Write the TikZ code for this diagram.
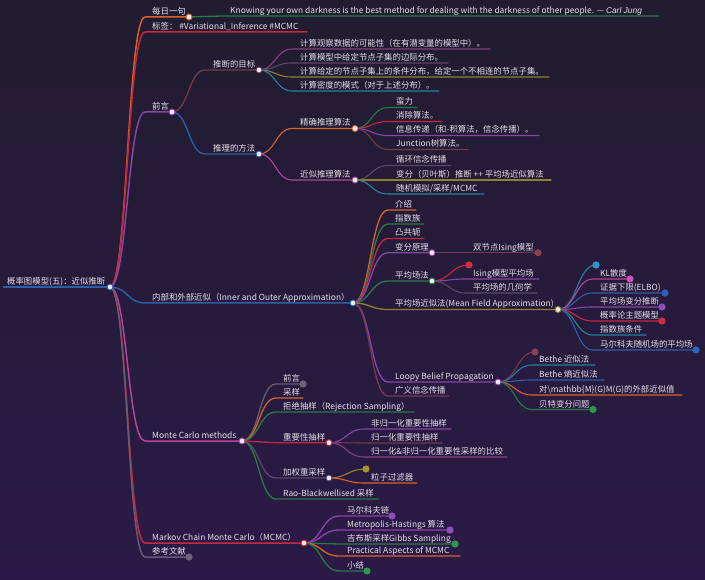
\documentclass[tikz,border=0pt]{standalone}
\usepackage{fontspec}
\setmainfont{Noto Sans CJK SC}
\newfontfamily\latit{Liberation Sans}
\usetikzlibrary{calc}
\definecolor{bgtop}{HTML}{211C30}
\definecolor{bgbot}{HTML}{2B1A47}
\definecolor{txtc}{HTML}{E4DEEA}
\definecolor{dotc}{HTML}{F3ECF6}
\definecolor{cOr}{HTML}{D9622B}
\definecolor{cRed}{HTML}{C8283C}
\definecolor{cPur}{HTML}{8A43A8}
\definecolor{cBlu}{HTML}{2C5FA6}
\definecolor{cGrn}{HTML}{287A46}
\definecolor{cMag}{HTML}{B8429C}
\definecolor{cMar}{HTML}{763A4C}
\definecolor{cOli}{HTML}{8F802C}
\definecolor{cTea}{HTML}{28809A}
\definecolor{cGry}{HTML}{6A5A72}
\definecolor{cGrp}{HTML}{5A4868}
\definecolor{cPlm}{HTML}{8A3F80}
\definecolor{dTea}{HTML}{2A9BC8}
\definecolor{dMag}{HTML}{D24FB6}
\definecolor{dBlu}{HTML}{2B62C2}
\definecolor{dPur}{HTML}{8E4CBD}
\definecolor{dRed}{HTML}{D92A45}
\definecolor{dMar}{HTML}{8A4252}
\definecolor{dGrn}{HTML}{2A9A48}
\definecolor{dOli}{HTML}{A8942E}
\definecolor{dGry}{HTML}{6E6478}
\tikzset{
  txt/.style={anchor=base west, inner sep=0pt, text=txtc, font=\fontsize{8.4}{10}\selectfont},
  lA/.style={line width=1.5pt, line cap=round},
  lB/.style={line width=1.3pt, line cap=round},
  lC/.style={line width=1.1pt, line cap=round},
}
% name, text x, underline start, underline end, y, text
\newcommand\mmnode[6]{\coordinate (#1-s) at (#3,#5); \coordinate (#1-e) at (#4,#5); \node[txt] (#1) at (#2,{#5-2.5}) {#6};}
% parent, child, colour, width
\newcommand\mmlink[4]{\draw[#3,#4] let \p1=(#1-e), \p2=(#2-s) in (\p1) .. controls ({(\x1+\x2)/2},\y1) and ({(\x1+\x2)/2},\y2) .. (\p2) -- (#2-e);}
\newcommand\mmopen[2]{\filldraw[fill=dotc,draw=#2,line width=0.9pt] (#1-e) circle[radius=3pt];}
\newcommand\mmfull[2]{\fill[#2] (#1-e) circle[radius=3.6pt];}
\begin{document}
\begin{tikzpicture}[x=1pt,y=-1pt]
\shade[top color=bgtop, bottom color=bgbot] (0,0) rectangle (705,580);
\useasboundingbox (0,0) rectangle (705,580);
% ---------- nodes ----------
\mmnode{R}{7}{3}{110}{287}{概率图模型(五)：近似推断}
\mmnode{daily}{152}{145}{189}{17}{每日一句}
\mmnode{quote}{230}{222}{659}{16}{Knowing your own darkness is the best method for dealing with the darkness of other people. — {\latit\itshape Carl Jung}}
\mmnode{tags}{152}{145}{307}{32}{标签： \#Variational\_Inference \#MCMC}
\mmnode{pre}{152}{145}{172}{112}{前言}
\mmnode{io}{152}{145}{353}{303}{内部和外部近似（Inner and Outer Approximation）}
\mmnode{mc}{152}{145}{242}{441}{Monte Carlo methods}
\mmnode{mcmc}{152}{145}{304}{543}{Markov Chain Monte Carlo（MCMC）}
\mmnode{ref}{152}{145}{189}{557}{参考文献}
% 前言
\mmnode{goal}{213}{205}{259}{70}{推断的目标}
\mmnode{meth}{213}{205}{259}{154}{推理的方法}
\mmnode{g1}{300}{292}{490}{49}{计算观察数据的可能性（在有潜变量的模型中）。}
\mmnode{g2}{300}{292}{448}{63}{计算模型中给定节点子集的边际分布。}
\mmnode{g3}{300}{292}{549}{77}{计算给定的节点子集上的条件分布，给定一个不相连的节点子集。}
\mmnode{g4}{300}{292}{439}{91}{计算密度的模式（对于上述分布）。}
\mmnode{exact}{300}{292}{355}{128.5}{精确推理算法}
\mmnode{approx}{300}{292}{355}{180}{近似推理算法}
\mmnode{e1}{396}{388}{417}{107.5}{蛮力}
\mmnode{e2}{396}{388}{442}{121.5}{消除算法。}
\mmnode{e3}{396}{388}{539}{135.5}{信息传递（和-积算法，信念传播）。}
\mmnode{e4}{396}{388}{468}{149.5}{Junction树算法。}
\mmnode{a1}{396}{388}{451}{165.5}{循环信念传播}
\mmnode{a2}{396}{388}{551}{180}{变分（贝叶斯）推断 ++ 平均场近似算法}
\mmnode{a3}{396}{388}{484}{194}{随机模拟/采样/MCMC}
% inner/outer
\mmnode{i1}{395}{388}{416}{210}{介绍}
\mmnode{i2}{395}{388}{424}{224}{指数族}
\mmnode{i3}{395}{388}{424}{238.5}{凸共轭}
\mmnode{i4}{395}{388}{432}{252.7}{变分原理}
\mmnode{i5}{395}{388}{432}{281}{平均场法}
\mmnode{i6}{395}{388}{558}{309.5}{平均场近似法(Mean Field Approximation)}
\mmnode{i7}{395}{388}{498}{382}{Loopy Belief Propagation}
\mmnode{i8}{395}{388}{449}{396}{广义信念传播}
\mmnode{i4a}{473}{466}{538}{252.7}{双节点Ising模型}
\mmnode{i5a}{469}{469}{469}{265}{}
\mmnode{i5b}{473}{466}{539}{279}{Ising模型平均场}
\mmnode{i5c}{473}{466}{537}{293}{平均场的几何学}
\mmnode{m0}{596}{596}{596}{265}{}
\mmnode{m1}{600}{593}{630}{279}{KL散度}
\mmnode{m2}{600}{593}{665}{293}{证据下限(ELBO)}
\mmnode{m3}{600}{593}{662}{307}{平均场变分推断}
\mmnode{m4}{600}{593}{662}{321}{概率论主题模型}
\mmnode{m5}{600}{593}{646}{335}{指数族条件}
\mmnode{m6}{600}{593}{696}{350}{马尔科夫随机场的平均场}
\mmnode{l0}{535}{535}{535}{352}{}
\mmnode{l1}{539}{532}{595}{365}{Bethe 近似法}
\mmnode{l2}{539}{532}{604}{380}{Bethe 熵近似法}
\mmnode{l3}{539}{532}{682}{395}{对\textbackslash mathbb\{M\}(G)M(G)的外部近似值}
\mmnode{l4}{539}{532}{593}{409.5}{贝特变分问题}
% Monte Carlo
\mmnode{c1}{283}{276}{303}{384}{前言}
\mmnode{c2}{283}{276}{303}{398}{采样}
\mmnode{c3}{283}{276}{414}{412}{拒绝抽样（Rejection Sampling）}
\mmnode{c4}{283}{276}{329}{442.7}{重要性抽样}
\mmnode{c5}{283}{276}{329}{478}{加权重采样}
\mmnode{c6}{283}{276}{379}{499}{Rao-Blackwellised 采样}
\mmnode{c4a}{371}{364}{451}{429}{非归一化重要性抽样}
\mmnode{c4b}{371}{364}{442}{443}{归一化重要性抽样}
\mmnode{c4c}{371}{364}{507}{457}{归一化\&非归一化重要性采样的比较}
\mmnode{c5a}{366}{366}{366}{469}{}
\mmnode{c5b}{371}{364}{417}{483}{粒子过滤器}
% MCMC
\mmnode{k1}{347}{339}{392}{516}{马尔科夫链}
\mmnode{k2}{347}{339}{450}{530}{Metropolis-Hastings 算法}
\mmnode{k3}{347}{339}{455}{544}{吉布斯采样Gibbs Sampling}
\mmnode{k4}{347}{339}{460}{556}{Practical Aspects of MCMC}
\mmnode{k5}{347}{339}{367}{571}{小结}
% ---------- links ----------
\draw[cBlu,line width=1.8pt] (R-s) -- (R-e);
\mmlink{R}{daily}{cOr}{lA}
\mmlink{R}{tags}{cRed}{lA}
\mmlink{R}{pre}{cPur}{lA}
\mmlink{R}{io}{cBlu}{lA}
\mmlink{R}{mc}{cMag}{lA}
\mmlink{R}{mcmc}{cRed}{lA}
\mmlink{R}{ref}{cGry}{lA}
\mmlink{daily}{quote}{cGrn}{lB}
\mmlink{pre}{goal}{cMar}{lB}
\mmlink{pre}{meth}{cBlu}{lB}
\mmlink{goal}{g1}{cPlm}{lC}
\mmlink{goal}{g2}{cGrp}{lC}
\mmlink{goal}{g3}{cOli}{lC}
\mmlink{goal}{g4}{cTea}{lC}
\mmlink{meth}{exact}{cOr}{lC}
\mmlink{meth}{approx}{cMag}{lC}
\mmlink{exact}{e1}{cGrn}{lC}
\mmlink{exact}{e2}{cRed}{lC}
\mmlink{exact}{e3}{cPur}{lC}
\mmlink{exact}{e4}{cMar}{lC}
\mmlink{approx}{a1}{cGrp}{lC}
\mmlink{approx}{a2}{cOli}{lC}
\mmlink{approx}{a3}{cTea}{lC}
\mmlink{io}{i1}{cOr}{lB}
\mmlink{io}{i2}{cGrn}{lB}
\mmlink{io}{i3}{cRed}{lB}
\mmlink{io}{i4}{cPur}{lB}
\mmlink{io}{i5}{cGrn}{lB}
\mmlink{io}{i6}{cOli}{lB}
\mmlink{io}{i7}{cPur}{lB}
\mmlink{io}{i8}{cMar}{lB}
\mmlink{i4}{i4a}{cMar}{lC}
\mmlink{i5}{i5a}{cRed}{lC}
\mmlink{i5}{i5b}{cPur}{lC}
\mmlink{i5}{i5c}{cGrp}{lC}
\mmlink{i6}{m0}{cTea}{lC}
\mmlink{i6}{m1}{cMag}{lC}
\mmlink{i6}{m2}{cBlu}{lC}
\mmlink{i6}{m3}{cPur}{lC}
\mmlink{i6}{m4}{cRed}{lC}
\mmlink{i6}{m5}{cTea}{lC}
\mmlink{i6}{m6}{cBlu}{lC}
\mmlink{i7}{l0}{cMar}{lC}
\mmlink{i7}{l1}{cTea}{lC}
\mmlink{i7}{l2}{cBlu}{lC}
\mmlink{i7}{l3}{cOr}{lC}
\mmlink{i7}{l4}{cGrn}{lC}
\mmlink{mc}{c1}{cGry}{lB}
\mmlink{mc}{c2}{cOr}{lB}
\mmlink{mc}{c3}{cGrn}{lB}
\mmlink{mc}{c4}{cRed}{lB}
\mmlink{mc}{c5}{cGrp}{lB}
\mmlink{mc}{c6}{cGrn}{lB}
\mmlink{c4}{c4a}{cPur}{lC}
\mmlink{c4}{c4b}{cMar}{lC}
\mmlink{c4}{c4c}{cPlm}{lC}
\mmlink{c5}{c5a}{cOli}{lC}
\mmlink{c5}{c5b}{cOr}{lC}
\mmlink{mcmc}{k1}{cPur}{lB}
\mmlink{mcmc}{k2}{cPur}{lB}
\mmlink{mcmc}{k3}{cGrn}{lB}
\mmlink{mcmc}{k4}{cOr}{lB}
\mmlink{mcmc}{k5}{cGrn}{lB}
% ---------- dots ----------
\mmopen{R}{cBlu}
\mmopen{daily}{cOr}
\mmopen{pre}{cPur}
\mmopen{io}{cBlu}
\mmopen{mc}{cMag}
\mmopen{mcmc}{cRed}
\mmfull{ref}{dGry}
\mmopen{goal}{cMar}
\mmopen{meth}{cBlu}
\mmopen{exact}{cOr}
\mmopen{approx}{cMag}
\mmopen{i4}{cPur}
\mmopen{i5}{cGrn}
\mmopen{i6}{cOli}
\mmopen{i7}{cPur}
\mmfull{i4a}{dMar}
\mmfull{i5a}{dRed}
\mmfull{m0}{dTea}
\mmfull{m1}{dMag}
\mmfull{m2}{dBlu}
\mmfull{m3}{dPur}
\mmfull{m4}{dRed}
\mmfull{m6}{dBlu}
\mmfull{l0}{dMar}
\mmfull{l4}{dGrn}
\mmfull{c1}{dGry}
\mmopen{c4}{cRed}
\mmopen{c5}{cGrp}
\mmfull{c5a}{dOli}
\mmfull{k1}{dPur}
\mmfull{k2}{dPur}
\mmfull{k3}{dGrn}
\mmfull{k5}{dGrn}
\end{tikzpicture}
\end{document}
